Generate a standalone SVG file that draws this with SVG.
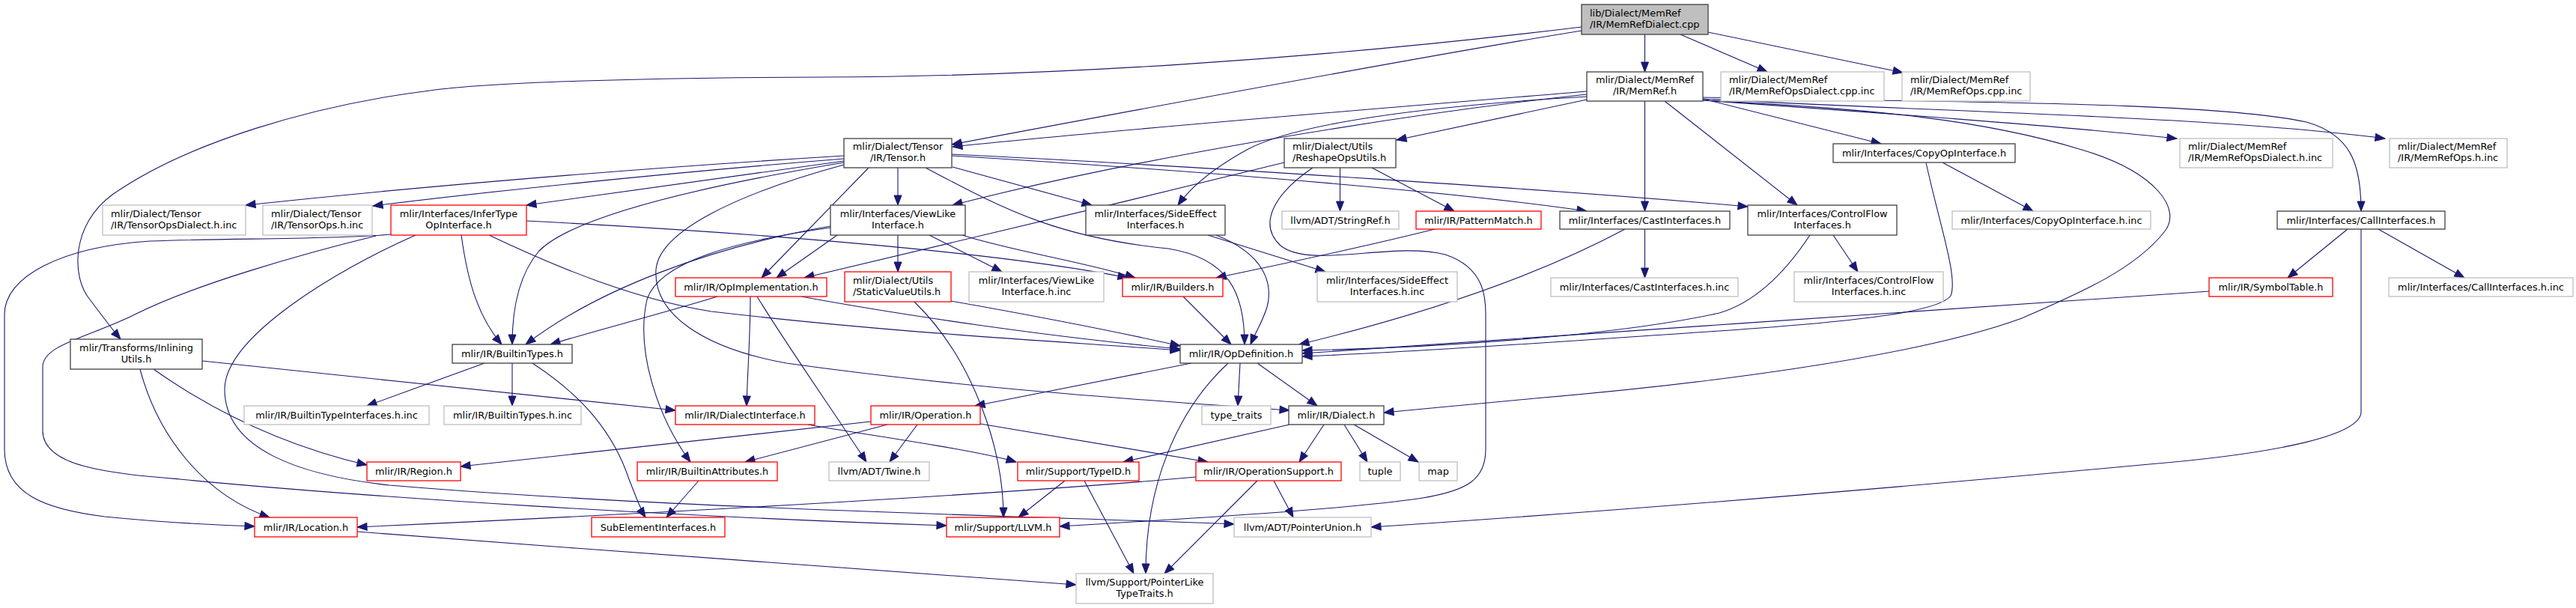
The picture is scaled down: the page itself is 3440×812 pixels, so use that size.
<svg xmlns="http://www.w3.org/2000/svg" width="3440" height="812" viewBox="0 0 3440 812">
<defs>
<marker id="a" markerUnits="userSpaceOnUse" markerWidth="15" markerHeight="12" refX="13" refY="5" orient="auto" overflow="visible">
<path d="M0,0 L13,5 L0,10 z" fill="#191970" stroke="#191970" stroke-width="1"/>
</marker>
<style>
text{font-family:"DejaVu Sans","Liberation Sans",sans-serif;font-size:12.9px;fill:#000}
.c text{text-anchor:middle}
.l text{text-anchor:start}
g.n rect{fill:#fff;stroke:#404040;stroke-width:1.3}
g.r rect{fill:#fff;stroke:#ff0000;stroke-width:1.3}
g.g rect{fill:#fff;stroke:#bfbfbf;stroke-width:1.3}
g.root rect{fill:#bfbfbf;stroke:#404040;stroke-width:1.3}
#edges path{fill:none;stroke:#191970;stroke-width:1.1;marker-end:url(#a)}
</style>
</defs>
<rect x="0" y="0" width="3440" height="812" fill="#fff"/>
<g id="edges">
<path d="M2196.5,46 L2196.5,96"/>
<path d="M2244,46 L2360,96"/>
<path d="M2281,43 L2541,97"/>
<path d="M2112,41 C1900,75 1500,150 1271,193"/>
<path d="M2112,36 C1750,80 1400,102 1100,103 C850,104 650,110 574,121 C420,140 250,190 150,260 C95,300 95,370 120,400 C135,420 150,440 161,453"/>
<path d="M2119,122 C1900,140 1500,172 1272,196"/>
<path d="M2119,133 L1865,187"/>
<path d="M2119,126 C1850,155 1500,215 1272,274"/>
<path d="M2119,129 C1900,142 1730,165 1665,200 C1620,225 1590,250 1573,274"/>
<path d="M2196.5,135 L2196.5,282"/>
<path d="M2223,135 L2400,274"/>
<path d="M2274,132 L2512,192"/>
<path d="M2274,134 C2500,150 2750,168 2907,185"/>
<path d="M2274,132 C2600,150 2950,155 3185,185"/>
<path d="M2274,130 C2600,137 2950,135 3080,163 C3140,180 3153,220 3153,282"/>
<path d="M2274,134 C2500,145 2650,160 2780,200 C2880,230 2915,280 2890,310 C2850,360 2780,390 2700,425 C2550,480 2250,515 2050,532 C1960,540 1900,546 1848,551"/>
<path d="M1127,208 C900,222 600,245 328,274"/>
<path d="M1127,212 C900,230 650,256 498,275"/>
<path d="M1127,215 L703,274"/>
<path d="M1127,217 C900,255 760,295 720,335 C690,370 684,420 684,460"/>
<path d="M1127,220 C980,260 880,310 876,360 C872,420 940,465 1050,485 C1300,520 1550,536 1722,548"/>
<path d="M1160,224 L1017,371"/>
<path d="M1199,224 L1199,274"/>
<path d="M1272,223 L1458,274"/>
<path d="M1271,208 C1500,222 1900,250 2119,282"/>
<path d="M1271,206 C1600,222 2100,255 2334,276"/>
<path d="M1236,224 C1350,285 1420,318 1560,332 C1640,345 1662,390 1662,460"/>
<path d="M1789.5,224 L1789.5,282"/>
<path d="M1832,224 L1942,282"/>
<path d="M1715,217 C1500,270 1250,330 1074,371"/>
<path d="M1753,224 C1700,260 1680,300 1710,328 C1750,360 1860,322 1930,340 C1984,358 1984,400 1984,420 L1984,600 C1984,640 1960,655 1900,665 C1800,680 1600,692 1415,703"/>
<path d="M1199,314 L1199,363"/>
<path d="M1241,314 L1338,363"/>
<path d="M1285,314 C1350,335 1450,350 1516,371"/>
<path d="M1118,314 L1037,371"/>
<path d="M1109,302 C950,330 800,385 702,460"/>
<path d="M1109,304 C980,322 880,350 864,400 C848,470 880,560 922,617"/>
<path d="M703,295 C900,305 1300,330 1506,371"/>
<path d="M616,314 C625,380 640,425 670,460"/>
<path d="M653,314 C750,360 850,400 950,416 C1200,445 1400,455 1576,468"/>
<path d="M522,313 C450,320 300,318 200,322 C80,330 6,370 6,420 L6,600 C6,660 60,680 140,690 C220,698 280,701 340,703"/>
<path d="M502,315 C400,340 260,380 180,420 C120,450 57,460 57,490 L57,575 C57,625 150,632 240,640 C500,665 900,690 1264,702"/>
<path d="M555,314 C450,360 300,450 300,520 C300,600 400,635 520,648 C900,680 1400,690 1648,700"/>
<path d="M1613,314 L1770,363"/>
<path d="M1624,314 C1690,340 1700,380 1692,410 C1686,430 1676,445 1670,460"/>
<path d="M1580,396 L1644,460"/>
<path d="M1916,306 C1800,335 1700,355 1624,371"/>
<path d="M1221,403 C1300,480 1340,600 1340,691"/>
<path d="M1270,402 C1400,425 1500,445 1576,462"/>
<path d="M958,396 C880,420 800,440 735,460"/>
<path d="M1002,396 C1002,450 998,500 997,542"/>
<path d="M1011,396 C1050,460 1120,560 1157,617"/>
<path d="M1070,396 C1200,420 1400,450 1576,466"/>
<path d="M1591,485 L1302,542"/>
<path d="M1656,485 L1653,542"/>
<path d="M1679,485 L1759,542"/>
<path d="M1640,485 C1570,550 1530,650 1530,766"/>
<path d="M2196.5,306 L2196.5,371"/>
<path d="M2170,306 C2050,370 1900,420 1735,460"/>
<path d="M2448,314 L2481,363"/>
<path d="M2417,314 C2380,370 2340,405 2296,418 C2150,450 1900,465 1739,468"/>
<path d="M2594,217 L2715,282"/>
<path d="M2572,217 C2590,300 2615,370 2605,395 C2590,415 2500,428 2296,442 C2100,455 1900,470 1739,476"/>
<path d="M2950,389 C2600,410 2100,450 1739,472"/>
<path d="M3135,306 L3055,371"/>
<path d="M3176,306 L3291,371"/>
<path d="M3153,306 L3153,550 C3153,580 3050,605 2870,620 C2600,645 2200,680 1831,704"/>
<path d="M1722,567 L1500,617"/>
<path d="M1768,567 L1735,617"/>
<path d="M1795,567 L1826,617"/>
<path d="M1808,567 L1894,617"/>
<path d="M1163,563 L615,623"/>
<path d="M1185,567 L995,617"/>
<path d="M1225,567 L1188,617"/>
<path d="M1309,566 L1613,617"/>
<path d="M1079,567 C1150,580 1300,600 1357,617"/>
<path d="M1422,642 L1360,691"/>
<path d="M1448,642 L1514,766"/>
<path d="M1597,637 C1400,655 1000,680 477,704"/>
<path d="M1679,642 L1555,766"/>
<path d="M1701,642 L1727,691"/>
<path d="M647,485 L490,542"/>
<path d="M684,485 L684,542"/>
<path d="M711,485 C780,530 820,580 840,640 C848,660 855,680 862,691"/>
<path d="M933,642 L890,691"/>
<path d="M270,482 L902,548"/>
<path d="M205,493 C300,560 400,600 490,621"/>
<path d="M187,493 C210,580 270,660 360,691"/>
<path d="M477,710 C800,735 1150,760 1437,781"/>
</g>
<g id="root" class="root l"><rect x="2112" y="6" width="169" height="40"/><text x="2123" y="21.5">lib/Dialect/MemRef</text><text x="2123" y="36.5">/IR/MemRefDialect.cpp</text></g>
<g id="memref" class="n c"><rect x="2119" y="96" width="155" height="39"/><text x="2196.5" y="111">mlir/Dialect/MemRef</text><text x="2196.5" y="126">/IR/MemRef.h</text></g>
<g id="opsdialcpp" class="g l"><rect x="2298" y="96" width="218" height="39"/><text x="2309" y="111">mlir/Dialect/MemRef</text><text x="2309" y="126">/IR/MemRefOpsDialect.cpp.inc</text></g>
<g id="opscpp" class="g l"><rect x="2540" y="96" width="171" height="39"/><text x="2551" y="111">mlir/Dialect/MemRef</text><text x="2551" y="126">/IR/MemRefOps.cpp.inc</text></g>
<g id="tensor" class="n c"><rect x="1127" y="185" width="144" height="39"/><text x="1199" y="200">mlir/Dialect/Tensor</text><text x="1199" y="215">/IR/Tensor.h</text></g>
<g id="reshape" class="n l"><rect x="1715" y="185" width="149" height="39"/><text x="1726" y="200">mlir/Dialect/Utils</text><text x="1726" y="215">/ReshapeOpsUtils.h</text></g>
<g id="copyop" class="n c"><rect x="2448" y="192" width="243" height="25"/><text x="2569.5" y="209">mlir/Interfaces/CopyOpInterface.h</text></g>
<g id="opsdialh" class="g l"><rect x="2911" y="185" width="204" height="39"/><text x="2922" y="200">mlir/Dialect/MemRef</text><text x="2922" y="215">/IR/MemRefOpsDialect.h.inc</text></g>
<g id="opsh" class="g l"><rect x="3191" y="185" width="157" height="39"/><text x="3202" y="200">mlir/Dialect/MemRef</text><text x="3202" y="215">/IR/MemRefOps.h.inc</text></g>
<g id="tensordial" class="g l"><rect x="137" y="274" width="191" height="40"/><text x="148" y="290">mlir/Dialect/Tensor</text><text x="148" y="305">/IR/TensorOpsDialect.h.inc</text></g>
<g id="tensorops" class="g l"><rect x="351" y="274" width="146" height="40"/><text x="362" y="290">mlir/Dialect/Tensor</text><text x="362" y="305">/IR/TensorOps.h.inc</text></g>
<g id="infer" class="r c"><rect x="522" y="274" width="181" height="40"/><text x="612.5" y="290">mlir/Interfaces/InferType</text><text x="612.5" y="305">OpInterface.h</text></g>
<g id="viewlike" class="n c"><rect x="1109" y="274" width="180" height="40"/><text x="1199" y="290">mlir/Interfaces/ViewLike</text><text x="1199" y="305">Interface.h</text></g>
<g id="sideeffect" class="n c"><rect x="1450" y="274" width="186" height="40"/><text x="1543" y="290">mlir/Interfaces/SideEffect</text><text x="1543" y="305">Interfaces.h</text></g>
<g id="stringref" class="g c"><rect x="1712" y="282" width="156" height="24"/><text x="1790" y="298.5">llvm/ADT/StringRef.h</text></g>
<g id="pattern" class="r c"><rect x="1891" y="282" width="167" height="24"/><text x="1974.5" y="298.5">mlir/IR/PatternMatch.h</text></g>
<g id="cast" class="n c"><rect x="2083" y="282" width="227" height="24"/><text x="2196.5" y="298.5">mlir/Interfaces/CastInterfaces.h</text></g>
<g id="controlflow" class="n c"><rect x="2334" y="274" width="199" height="40"/><text x="2433.5" y="290">mlir/Interfaces/ControlFlow</text><text x="2433.5" y="305">Interfaces.h</text></g>
<g id="copyopinc" class="g c"><rect x="2607" y="282" width="265" height="24"/><text x="2739.5" y="298.5">mlir/Interfaces/CopyOpInterface.h.inc</text></g>
<g id="call" class="n c"><rect x="3041" y="282" width="224" height="24"/><text x="3153" y="298.5">mlir/Interfaces/CallInterfaces.h</text></g>
<g id="staticvalue" class="r l"><rect x="1128" y="363" width="142" height="40"/><text x="1139" y="379">mlir/Dialect/Utils</text><text x="1139" y="394">/StaticValueUtils.h</text></g>
<g id="opimpl" class="r c"><rect x="902" y="371" width="202" height="25"/><text x="1003" y="388">mlir/IR/OpImplementation.h</text></g>
<g id="viewlikeinc" class="g c"><rect x="1294" y="363" width="180" height="40"/><text x="1384" y="379">mlir/Interfaces/ViewLike</text><text x="1384" y="394">Interface.h.inc</text></g>
<g id="builders" class="r c"><rect x="1499" y="371" width="134" height="25"/><text x="1566" y="388">mlir/IR/Builders.h</text></g>
<g id="sideeffectinc" class="g c"><rect x="1759" y="363" width="187" height="40"/><text x="1852.5" y="379">mlir/Interfaces/SideEffect</text><text x="1852.5" y="394">Interfaces.h.inc</text></g>
<g id="castinc" class="g c"><rect x="2071" y="371" width="250" height="25"/><text x="2196" y="388">mlir/Interfaces/CastInterfaces.h.inc</text></g>
<g id="controlflowinc" class="g c"><rect x="2396" y="363" width="199" height="40"/><text x="2495.5" y="379">mlir/Interfaces/ControlFlow</text><text x="2495.5" y="394">Interfaces.h.inc</text></g>
<g id="symboltable" class="r c"><rect x="2950" y="371" width="165" height="25"/><text x="3032.5" y="388">mlir/IR/SymbolTable.h</text></g>
<g id="callinc" class="g c"><rect x="3190" y="371" width="246" height="25"/><text x="3313" y="388">mlir/Interfaces/CallInterfaces.h.inc</text></g>
<g id="inlining" class="n c"><rect x="94" y="453" width="176" height="40"/><text x="182" y="469">mlir/Transforms/Inlining</text><text x="182" y="484">Utils.h</text></g>
<g id="builtintypes" class="n c"><rect x="604" y="460" width="160" height="25"/><text x="684" y="477">mlir/IR/BuiltinTypes.h</text></g>
<g id="opdef" class="n c"><rect x="1576" y="460" width="163" height="25"/><text x="1657.5" y="477">mlir/IR/OpDefinition.h</text></g>
<g id="btifinc" class="g c"><rect x="326" y="542" width="247" height="25"/><text x="449.5" y="559">mlir/IR/BuiltinTypeInterfaces.h.inc</text></g>
<g id="btinc" class="g c"><rect x="593" y="542" width="183" height="25"/><text x="684.5" y="559">mlir/IR/BuiltinTypes.h.inc</text></g>
<g id="dialectif" class="r c"><rect x="902" y="542" width="186" height="25"/><text x="995" y="559">mlir/IR/DialectInterface.h</text></g>
<g id="operation" class="r c"><rect x="1163" y="542" width="146" height="25"/><text x="1236" y="559">mlir/IR/Operation.h</text></g>
<g id="typetraits" class="g c"><rect x="1605" y="542" width="92" height="25"/><text x="1651" y="559">type_traits</text></g>
<g id="dialect" class="n c"><rect x="1721" y="542" width="127" height="25"/><text x="1784.5" y="559">mlir/IR/Dialect.h</text></g>
<g id="region" class="r c"><rect x="490" y="617" width="125" height="25"/><text x="552.5" y="634">mlir/IR/Region.h</text></g>
<g id="builtinattr" class="r c"><rect x="851" y="617" width="187" height="25"/><text x="944.5" y="634">mlir/IR/BuiltinAttributes.h</text></g>
<g id="twine" class="g c"><rect x="1107" y="617" width="134" height="25"/><text x="1174" y="634">llvm/ADT/Twine.h</text></g>
<g id="typeid" class="r c"><rect x="1359" y="617" width="162" height="25"/><text x="1440" y="634">mlir/Support/TypeID.h</text></g>
<g id="opsupport" class="r c"><rect x="1597" y="617" width="194" height="25"/><text x="1694" y="634">mlir/IR/OperationSupport.h</text></g>
<g id="tuple" class="g c"><rect x="1816" y="617" width="54" height="25"/><text x="1843" y="634">tuple</text></g>
<g id="map" class="g c"><rect x="1895" y="617" width="51" height="25"/><text x="1920.5" y="634">map</text></g>
<g id="location" class="r c"><rect x="340" y="691" width="137" height="26"/><text x="408.5" y="708.5">mlir/IR/Location.h</text></g>
<g id="subelement" class="r c"><rect x="790" y="691" width="178" height="26"/><text x="879" y="708.5">SubElementInterfaces.h</text></g>
<g id="llvm" class="r c"><rect x="1264" y="691" width="151" height="26"/><text x="1339.5" y="708.5">mlir/Support/LLVM.h</text></g>
<g id="pointerunion" class="g c"><rect x="1648" y="691" width="183" height="26"/><text x="1739.5" y="708.5">llvm/ADT/PointerUnion.h</text></g>
<g id="pointerlike" class="g c"><rect x="1437" y="766" width="183" height="40"/><text x="1528.5" y="782">llvm/Support/PointerLike</text><text x="1528.5" y="797">TypeTraits.h</text></g>
</svg>
